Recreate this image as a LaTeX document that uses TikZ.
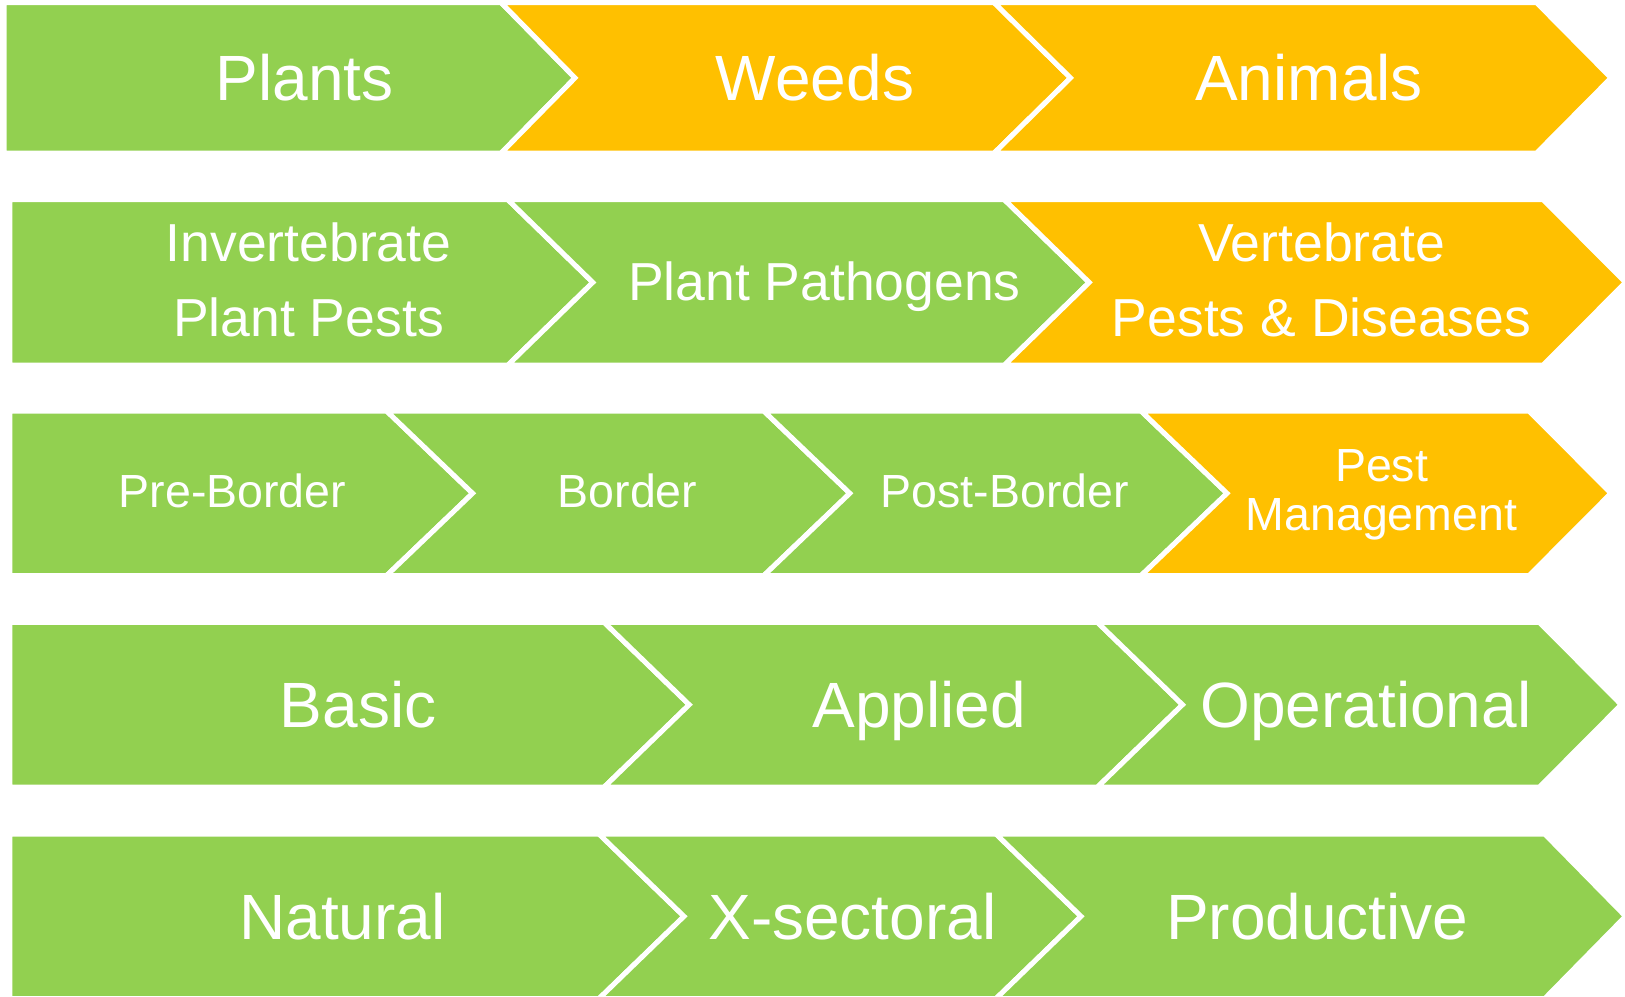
\documentclass[tikz,border=0pt]{standalone}
\usepackage{fontspec}
\setmainfont{Liberation Sans}
\definecolor{cgreen}{HTML}{92D050}
\definecolor{corange}{HTML}{FFC000}
\tikzset{
  shp/.style={draw=white, line width=2.5pt, line join=miter, miter limit=10},
  lbl/.style={text=white, inner sep=0pt, align=center},
  bigtxt/.style={lbl, font=\fontsize{32}{38}\selectfont},
  medtxt/.style={lbl, font=\fontsize{26.75}{37.8}\selectfont},
  smalltxt/.style={lbl, font=\fontsize{23.25}{24.15}\selectfont}
}
% #1 fill, #2 left x, #3 notch x, #4 body right x, #5 tip x, #6 top, #7 mid, #8 bottom
\newcommand{\chevshape}[8]{%
  \path[shp, fill=#1] (#2,#6) -- (#4,#6) -- (#5,#7) -- (#4,#8) -- (#2,#8) -- (#3,#7) -- cycle;}
\begin{document}
\begin{tikzpicture}[x=0.5pt, y=-0.5pt]
\fill[white] (0,0) rectangle (1625,996);
\useasboundingbox (0,0) rectangle (1625,996);

% Row 1
\chevshape{cgreen}{4}{4}{501}{575}{2.5}{77.9}{153.2}
\chevshape{corange}{501}{575}{994}{1070.5}{2.5}{77.9}{153.2}
\chevshape{corange}{994}{1070.5}{1536.4}{1611}{2.5}{77.9}{153.2}
\node[bigtxt, anchor=base] (plants) at (304.7,100.5) {Plants};
\node[bigtxt, anchor=base] (weeds) at (815,100.5) {Weeds};
\node[bigtxt, anchor=base] (animals) at (1309,100.5) {Animals};

% Row 2
\chevshape{cgreen}{9.8}{9.8}{507.8}{592.8}{199.6}{282.4}{365.2}
\chevshape{cgreen}{507.8}{592.8}{1004.3}{1089.2}{199.6}{282.4}{365.2}
\chevshape{corange}{1004.3}{1089.2}{1543}{1625.5}{199.6}{282.4}{365.2}
\node[medtxt] (invert) at (308.5,279.8) {Invertebrate\\Plant Pests};
\node[medtxt, anchor=base] (pathogens) at (824.5,300.5) {Plant Pathogens};
\node[medtxt] (vert) at (1321.5,279.8) {Vertebrate\\Pests \& Diseases};

% Row 3
\chevshape{cgreen}{9.8}{9.8}{386.6}{472.6}{411}{493.3}{575.6}
\chevshape{cgreen}{386.6}{472.6}{763.8}{849.8}{411}{493.3}{575.6}
\chevshape{cgreen}{763.8}{849.8}{1141}{1227}{411}{493.3}{575.6}
\chevshape{corange}{1141}{1227}{1529}{1610.9}{411}{493.3}{575.6}
\node[smalltxt, anchor=base] (preborder) at (232.5,507) {Pre-Border};
\node[smalltxt, anchor=base] (border) at (627.5,507) {Border};
\node[smalltxt, anchor=base] (postborder) at (1004.8,507) {Post-Border};
\node[smalltxt] (pestmgmt) at (1381.5,494.7) {Pest\\Management};

% Row 4
\chevshape{cgreen}{9.8}{9.8}{604.2}{689.2}{622.4}{704.7}{787}
\chevshape{cgreen}{604.2}{689.2}{1097.5}{1182.5}{622.4}{704.7}{787}
\chevshape{cgreen}{1097.5}{1182.5}{1539.4}{1621.2}{622.4}{704.7}{787}
\node[bigtxt, anchor=base] (basic) at (358,727) {Basic};
\node[bigtxt, anchor=base] (applied) at (919.3,727) {Applied};
\node[bigtxt, anchor=base] (operational) at (1365.9,727) {Operational};

% Row 5
\chevshape{cgreen}{9.8}{9.8}{599}{684}{834}{916.3}{998.6}
\chevshape{cgreen}{599}{684}{996}{1081}{834}{916.3}{998.6}
\chevshape{cgreen}{996}{1081}{1544.7}{1625.5}{834}{916.3}{998.6}
\node[bigtxt, anchor=base] (natural) at (342.5,939) {Natural};
\node[bigtxt, anchor=base] (xsectoral) at (852.4,939) {X-sectoral};
\node[bigtxt, anchor=base] (productive) at (1317.3,939) {Productive};
\end{tikzpicture}
\end{document}
